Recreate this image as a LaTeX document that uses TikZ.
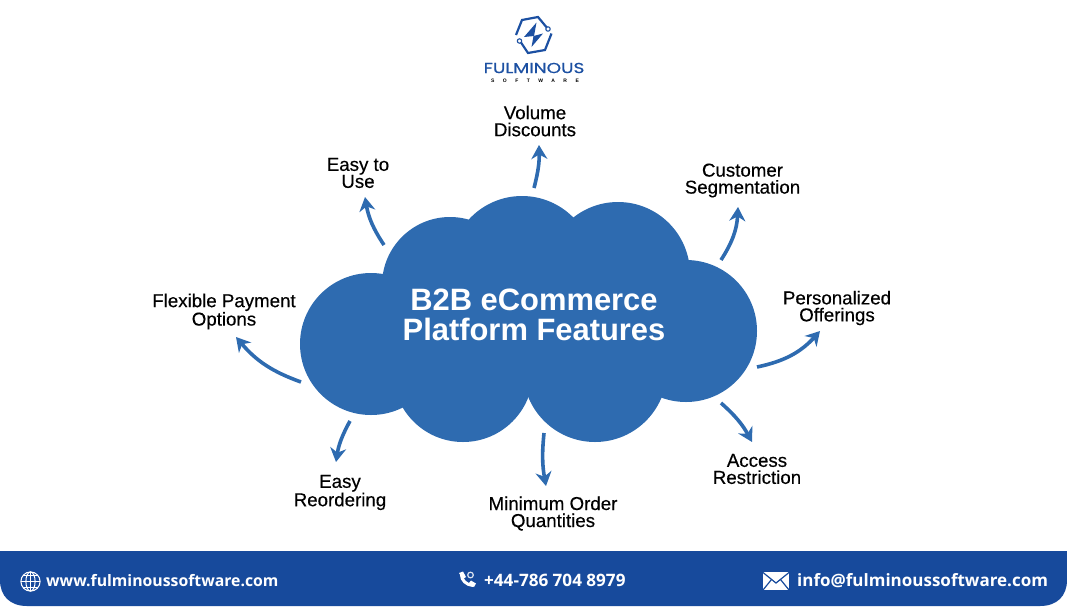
\documentclass[tikz,border=0pt]{standalone}
\usepackage{fontspec}
\usetikzlibrary{arrows.meta}
\setmainfont{Liberation Sans}
\newfontfamily\labelfont[FakeBold=0.35]{Liberation Sans}
\newfontfamily\footfont{Open Sans}
\newfontfamily\logofont[FakeBold=0.6]{Poppins}
\newfontfamily\logosubfont[LetterSpace=170]{Liberation Sans}
\definecolor{cloudblue}{HTML}{2E6BB0}
\definecolor{footblue}{HTML}{174A9C}
\definecolor{logoblue}{HTML}{1C50A2}
\tikzset{
  feature/.style={align=center,text=black,inner sep=0pt,font=\labelfont\fontsize{18.7}{17}\selectfont},
  title/.style={align=center,text=white,inner sep=0pt,font=\bfseries\fontsize{30.9}{30}\selectfont},
  footer/.style={anchor=west,text=white,inner sep=0pt,font=\footfont\bfseries\fontsize{#1}{18}\selectfont},
  featurearrow/.style={draw=cloudblue,line width=3.6pt,-{Stealth[length=14pt,width=16pt]}},
  logoline/.style={draw=logoblue,line width=2.2pt},
  iconline/.style={draw=white,line width=1pt}
}
\begin{document}
\begin{tikzpicture}[x=1pt,y=-1pt]
\useasboundingbox (0,0) rectangle (1067,606);

\foreach \cx/\cy/\r in {371/344/71,450/285/68,522/268/72,618/274/72,686/331/71,595/370/72,463/372/70}
  \fill [cloudblue] (\cx,\cy) circle [radius=\r];
\fill [cloudblue] (380,300) rectangle (690,385);
\fill [cloudblue] (470,225) rectangle (640,300);
\node [title] (cloud) at (534,315) {B2B eCommerce\\Platform Features};

\coordinate (volumestart) at (534,188);
\coordinate (volumeend) at (539,145);
\coordinate (easystart) at (384,245);
\coordinate (easyend) at (365,197);
\coordinate (customerstart) at (721,260);
\coordinate (customerend) at (738,207);
\coordinate (personalstart) at (757,367);
\coordinate (personalend) at (820,331);
\coordinate (accessstart) at (721,403);
\coordinate (accessend) at (752,442);
\coordinate (minimumstart) at (544,433);
\coordinate (minimumend) at (546,486);
\coordinate (reorderstart) at (350,421);
\coordinate (reorderend) at (336,462);
\coordinate (flexiblestart) at (301,382);
\coordinate (flexibleend) at (236,337);

\draw [featurearrow] (volumestart) to [bend right=8] (volumeend);
\draw [featurearrow] (easystart) to [bend left=12] (easyend);
\draw [featurearrow] (customerstart) to [bend right=15] (customerend);
\draw [featurearrow] (personalstart) to [bend right=18] (personalend);
\draw [featurearrow] (accessstart) to [bend left=10] (accessend);
\draw [featurearrow] (minimumstart) to [bend right=8] (minimumend);
\draw [featurearrow] (reorderstart) to [bend right=10] (reorderend);
\draw [featurearrow] (flexiblestart) to [bend left=15] (flexibleend);

\node [feature] (volume) at (535,121) {Volume\\Discounts};
\node [feature] (easy) at (358,173) {Easy to\\Use};
\node [feature] (customer) at (742.5,180.5) {Customer\\Segmentation};
\node [feature] (personal) at (837,308) {Personalized\\Offerings};
\node [feature] (access) at (757,469) {Access\\Restriction};
\node [feature] (minimum) at (553,513.5) {Minimum Order\\Quantities};
\node [feature] (reorder) at (340,492.5) {Easy\\Reordering};
\node [feature] (flexible) at (224,311.5) {Flexible Payment\\Options};

\draw [logoline] (548,29) -- (538,17) -- (522,20) -- (516,35);
\draw [logoline] (551.5,33.5) -- (545,50) -- (528,53) -- (520,41);
\draw [draw=logoblue,fill=white,line width=1.1pt] (548,29) circle [radius=2.2];
\draw [draw=logoblue,fill=white,line width=1.1pt] (519.5,41) circle [radius=2.2];
\fill [logoblue] (536.5,22.5) -- (524,37) -- (534,36) -- cycle;
\fill [logoblue] (543,33.5) -- (531.5,47) -- (533.5,36) -- cycle;
\node [inner sep=0pt,text=logoblue,font=\logofont\fontsize{14.5}{14}\selectfont] (logoname) at (534,68) {\scalebox{1.27}[1]{FULMINOUS}};
\node [inner sep=0pt,text=black,font=\logosubfont\bfseries\fontsize{5}{5}\selectfont] (logosub) at (535,80.5) {SOFTWARE};

\fill [footblue] (0,551) -- (1067,551) -- (1067,580) .. controls (1067,596) and (1057,606) .. (1040,606) -- (27,606) .. controls (10,606) and (0,596) .. (0,580) -- cycle;

\draw [iconline] (30.5,581.5) circle [radius=9.6];
\draw [iconline] (30.5,581.5) ellipse [x radius=4.6,y radius=9.6];
\draw [iconline] (30.5,572) -- (30.5,591);
\draw [iconline] (21,581.5) -- (40,581.5);
\draw [iconline] (23,575.5) -- (38,575.5);
\draw [iconline] (23,587.5) -- (38,587.5);
\node [footer=15.8] (web) at (46,581) {www.fulminoussoftware.com};

\draw [draw=white,line width=3pt,line cap=round] (461.5,575) .. controls (461.5,580) and (466,585) .. (473,585.5);
\fill [white] (459,573) -- (463,571.5) -- (466,577) -- (463,579) -- cycle;
\fill [white] (469,583) -- (471,580.5) -- (476,583.5) -- (474,587) -- cycle;
\draw [draw=white!85!footblue,line width=1.2pt] (470.5,575) circle [radius=2.8];
\node [footer=17.1] (phone) at (484,580) {+44-786 704 8979};

\fill [white] (763,572) rectangle (789,590);
\draw [draw=footblue,line width=1.2pt] (763,572.5) -- (776,583) -- (789,572.5);
\draw [draw=footblue,line width=1.2pt] (763,590) -- (771.5,579.5);
\draw [draw=footblue,line width=1.2pt] (789,590) -- (780.5,579.5);
\node [footer=17] (mail) at (797,581) {info@fulminoussoftware.com};
\end{tikzpicture}
\end{document}
